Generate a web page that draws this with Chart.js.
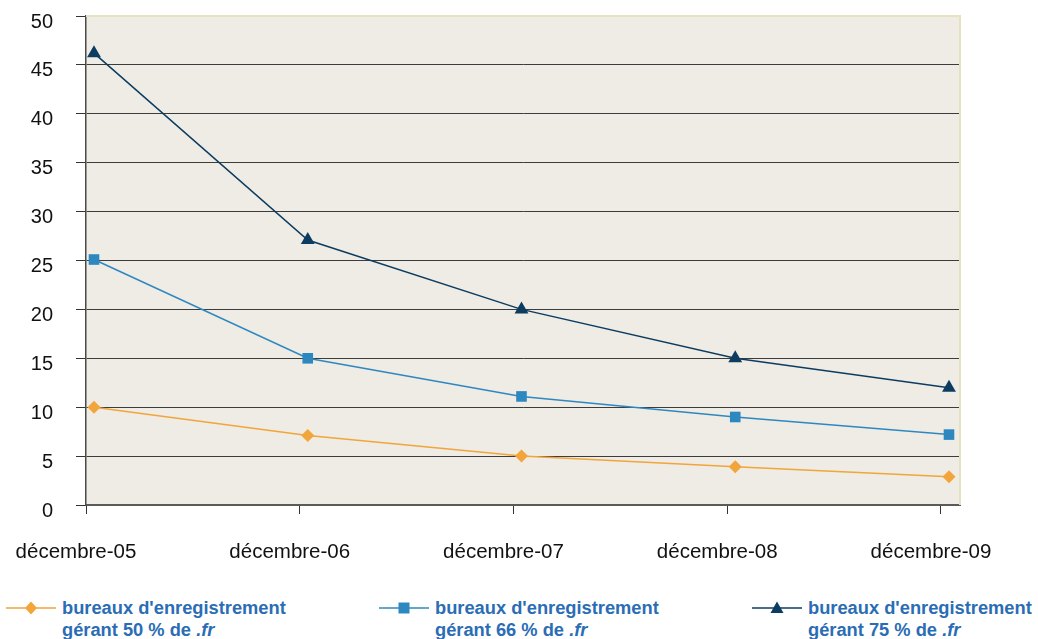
<!DOCTYPE html>
<html>
<head>
<meta charset="utf-8">
<script src="https://cdn.jsdelivr.net/npm/chart.js@4/dist/chart.umd.min.js"></script>
<style>
  html, body { margin: 0; padding: 0; background: #ffffff; }
  body { width: 1038px; height: 639px; position: relative; overflow: hidden;
         font-family: "Liberation Sans", Arial, sans-serif; }
  #wrap { position: absolute; left: 0; top: 0; width: 1038px; height: 590px; }
  .leg { position: absolute; top: 597px; display: flex; align-items: flex-start; }
  .leg svg { display: block; margin-top: 4px; }
  .leg .txt { color: #2a6db5; font-weight: bold; font-size: 18.3px; line-height: 22px;
              margin-left: 6px; white-space: nowrap; }
</style>
</head>
<body>
<div id="wrap"><canvas id="c"></canvas></div>
<div id="legend"></div>
<script>
// Month labels of the category axis
const categories = ['décembre-05', 'décembre-06', 'décembre-07', 'décembre-08', 'décembre-09'];

// Number of registrars managing a given share of .fr names
const share50 = [10, 7.1, 5, 3.9, 2.9];
const share66 = [25.1, 15, 11.1, 9, 7.2];
const share75 = [46.2, 27.1, 20, 15, 12];

const seriesNames = [
  ['bureaux d\'enregistrement', 'gérant 50 % de ', '.fr'],
  ['bureaux d\'enregistrement', 'gérant 66 % de ', '.fr'],
  ['bureaux d\'enregistrement', 'gérant 75 % de ', '.fr']
];

const yTicks = { min: 0, max: 50, step: 5 };

const colors = ['#f2a53a', '#2e88c0', '#0c3d60'];
const styles = ['rectRot', 'rect', 'triangle'];
const radii = [6.5, 7.5, 8];

// Points sit slightly right of each category tick mark
const shift = 0.0374;
const toPoints = arr => arr.map((v, i) => ({ x: i, y: v }));

const plotFrame = {
  id: 'plotFrame',
  beforeDraw(chart) {
    const { ctx, chartArea: a } = chart;
    ctx.save();
    ctx.fillStyle = '#efebe5';
    ctx.fillRect(a.left, a.top, a.right - a.left, a.bottom - a.top);
    ctx.restore();
  },
  beforeDatasetsDraw(chart) {
    const { ctx, chartArea: a } = chart;
    ctx.save();
    ctx.strokeStyle = '#e4e2c2';
    ctx.lineWidth = 2;
    ctx.beginPath();
    ctx.moveTo(a.left, a.top);
    ctx.lineTo(a.right, a.top);
    ctx.lineTo(a.right, a.bottom);
    ctx.stroke();
    ctx.restore();
  }
};

const series = [share50, share66, share75];
const fontFamily = '"Liberation Sans", Arial, sans-serif';

new Chart(document.getElementById('c'), {
  type: 'line',
  data: {
    datasets: series.map((s, k) => ({
      label: seriesNames[k].join(''),
      data: toPoints(s),
      borderColor: colors[k],
      backgroundColor: colors[k],
      borderWidth: 1.5,
      pointStyle: styles[k],
      pointRadius: radii[k],
      pointHoverRadius: radii[k],
      pointBorderWidth: 0,
      tension: 0
    }))
  },
  options: {
    responsive: true,
    maintainAspectRatio: false,
    animation: false,
    events: [],
    layout: { padding: { top: 16, right: 78, left: 0, bottom: 0 } },
    plugins: { legend: { display: false }, tooltip: { enabled: false } },
    scales: {
      x: {
        type: 'linear',
        min: -shift,
        max: 4.0889 - shift,
        afterBuildTicks(scale) {
          scale.ticks = categories.map((_, i) => ({ value: i - shift }));
        },
        afterFit(scale) {
          scale.height = 85;
          scale.paddingLeft = 0;
          scale.paddingRight = 0;
        },
        grid: { display: true, drawOnChartArea: false, drawTicks: true, tickLength: 9,
                tickColor: '#333333', tickWidth: 1 },
        border: { display: true, color: '#5a5a56', width: 2 },
        ticks: {
          autoSkip: false, maxRotation: 0, minRotation: 0,
          padding: 26, labelOffset: -10,
          color: '#111111',
          font: { family: fontFamily, size: 20.5 },
          callback: (v, i) => categories[i]
        }
      },
      y: {
        min: yTicks.min,
        max: yTicks.max,
        afterFit(scale) {
          scale.width = 86;
          scale.paddingTop = 0;
          scale.paddingBottom = 0;
        },
        grid: {
          color: c => (c.tick && c.tick.value === yTicks.max) ? 'rgba(0,0,0,0)' : '#3c3c3c',
          lineWidth: 1,
          drawTicks: true, tickLength: 10, tickColor: '#333333'
        },
        border: { display: true, color: '#4a4a46', width: 1.5 },
        ticks: {
          stepSize: yTicks.step,
          padding: 23, labelOffset: 6,
          color: '#111111',
          font: { family: fontFamily, size: 20 }
        }
      }
    }
  },
  plugins: [plotFrame]
});

// Legend below the chart: line sample with marker, then two-line bold label
const legendPos = [6, 379, 752];
const legendEl = document.getElementById('legend');
function markerSvg(k) {
  const c = colors[k];
  let m = '';
  if (styles[k] === 'rectRot') m = `<polygon points="25,-0.5 31,6 25,12.5 19,6" fill="${c}"/>`;
  else if (styles[k] === 'rect') m = `<rect x="19.5" y="0.5" width="11" height="11" fill="${c}"/>`;
  else m = `<polygon points="25,-0.5 31.5,11 18.5,11" fill="${c}"/>`;
  return `<svg width="50" height="13" viewBox="0 -1 50 13"><line x1="0" y1="6" x2="50" y2="6" stroke="${c}" stroke-width="1.5"/>${m}</svg>`;
}
seriesNames.forEach((n, k) => {
  const d = document.createElement('div');
  d.className = 'leg';
  d.style.left = legendPos[k] + 'px';
  d.innerHTML = markerSvg(k) +
    `<div class="txt">${n[0]}<br>${n[1]}<i>${n[2]}</i></div>`;
  legendEl.appendChild(d);
});
</script>
</body>
</html>
